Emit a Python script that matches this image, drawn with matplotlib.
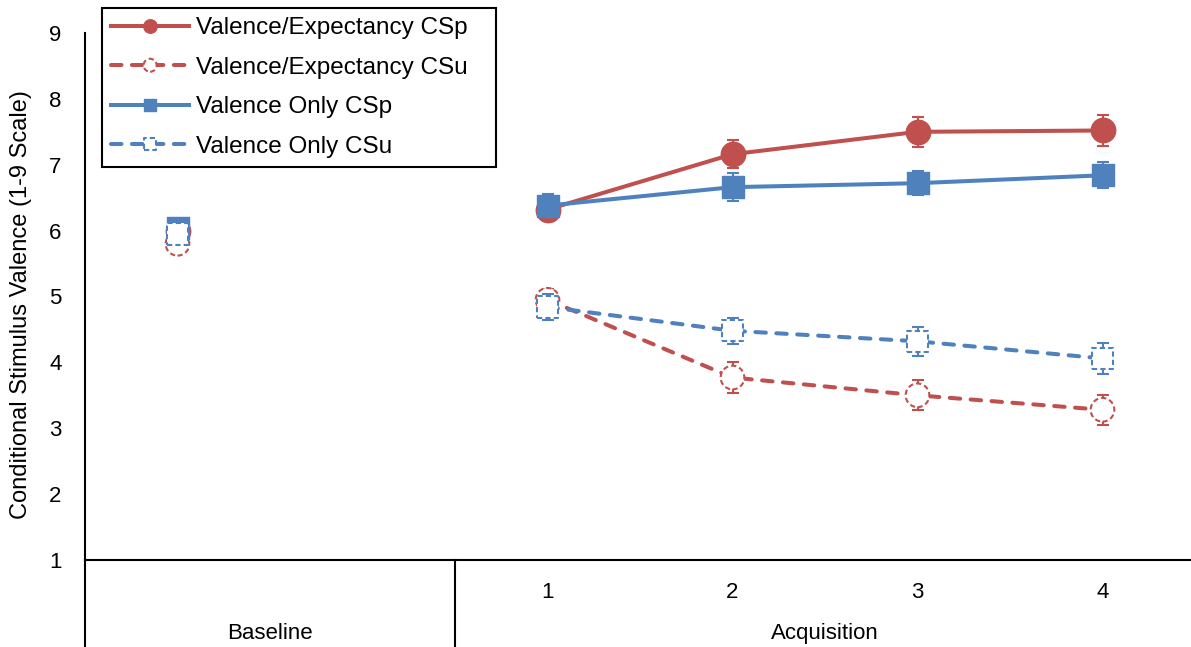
import matplotlib
matplotlib.use("Agg")
import matplotlib.pyplot as plt
from matplotlib.legend_handler import HandlerTuple
import numpy as np

plt.rcParams['font.family'] = ['Liberation Sans', 'DejaVu Sans']

nan = np.nan
inner_labels = ["", "", "1", "2", "3", "4"]
group_labels = ["Baseline", "Acquisition"]
group_sizes = [2, 4]

ve_csp = [6.00, nan, 6.32, 7.16, 7.50, 7.52]
ve_csu = [5.80, nan, 4.95, 3.77, 3.50, 3.28]
vo_csp = [6.04, nan, 6.38, 6.66, 6.72, 6.84]
vo_csu = [5.95, nan, 4.84, 4.48, 4.32, 4.06]

ve_csp_err = [0.10, nan, 0.18, 0.21, 0.23, 0.23]
ve_csu_err = [0.10, nan, 0.17, 0.24, 0.23, 0.23]
vo_csp_err = [0.08, nan, 0.18, 0.21, 0.18, 0.20]
vo_csu_err = [0.10, nan, 0.20, 0.20, 0.22, 0.23]

series_names = ["Valence/Expectancy CSp", "Valence/Expectancy CSu",
                "Valence Only CSp", "Valence Only CSu"]

RED = "#C0504D"
BLUE = "#4F81BD"

W, H = 1191, 647
fig = plt.figure(figsize=(W / 100, H / 100), dpi=100)
ax = fig.add_axes([85 / W, 1 - 560 / H, 1110 / W, 527 / H])

x = np.arange(len(inner_labels))

specs = [
    (ve_csp, ve_csp_err, RED, 'o', 310, True),
    (ve_csu, ve_csu_err, RED, 'o', 290, False),
    (vo_csp, vo_csp_err, BLUE, 's', 235, True),
    (vo_csu, vo_csu_err, BLUE, 's', 235, False),
]

handles = []
for i, (vals, errs, col, mk, sz, solid) in enumerate(specs):
    z = 2 + 3 * i
    ls = '-' if solid else (0, (2.6, 2.6))
    line, = ax.plot(x, vals, color=col, lw=2.9, linestyle=ls,
                    dash_capstyle='round', zorder=z)
    ax.errorbar(x, vals, yerr=errs, fmt='none', ecolor=col, elinewidth=1.5,
                capsize=4, capthick=1.5, zorder=z + 1)
    if solid:
        sc = ax.scatter(x, vals, s=sz, marker=mk, facecolor=col,
                        edgecolor=col, linewidths=1.0, zorder=z + 2)
    else:
        sc = ax.scatter(x, vals, s=sz, marker=mk, facecolor='white',
                        edgecolor=col, linewidths=1.5,
                        linestyles=[(0, (2.5, 1.5))], zorder=z + 2)
    handles.append((line, sc))

ax.set_xlim(-0.5, len(inner_labels) - 0.5)
ax.set_ylim(1, 9)
ax.set_yticks(np.arange(1, 10))
ax.tick_params(axis='y', length=0, pad=17, labelsize=16)
ax.set_xticks(x)
ax.set_xticklabels(inner_labels)
ax.tick_params(axis='x', length=0, pad=16, labelsize=16)

for s in ['top', 'right']:
    ax.spines[s].set_visible(False)
for s in ['left', 'bottom']:
    ax.spines[s].set_linewidth(1.5)
    ax.spines[s].set_color('black')

# multi-level category dividers and group labels
trans = ax.get_xaxis_transform()
bound = -0.5
ax.plot([bound, bound], [0, -0.2], transform=trans, color='black',
        lw=1.5, clip_on=False)
for gl, gs in zip(group_labels, group_sizes):
    center = bound + gs / 2
    ax.text(center, -0.14, gl, transform=trans, ha='center', va='center',
            fontsize=16)
    bound += gs
    if bound < len(inner_labels) - 0.5:
        ax.plot([bound, bound], [0, -0.2], transform=trans, color='black',
                lw=1.5, clip_on=False)

fig.text(21 / W, 1 - 305 / H, "Conditional Stimulus Valence (1-9 Scale)",
         rotation=90, ha='center', va='center', fontsize=17)

leg = fig.legend(handles, series_names, loc='upper left',
                 bbox_to_anchor=(102 / W, 1 - 165 / H, 394 / W, 157 / H),
                 bbox_transform=fig.transFigure, mode='expand',
                 fontsize=17.5, frameon=True, fancybox=False, framealpha=1,
                 edgecolor='black', borderpad=0.38, labelspacing=0.72,
                 handlelength=3.2, handletextpad=0.3, borderaxespad=0,
                 scatterpoints=1, scatteryoffsets=[0.5], markerscale=0.55,
                 handler_map={tuple: HandlerTuple(ndivide=1)})
leg.get_frame().set_linewidth(1.5)

fig.savefig("out.png", dpi=100)
